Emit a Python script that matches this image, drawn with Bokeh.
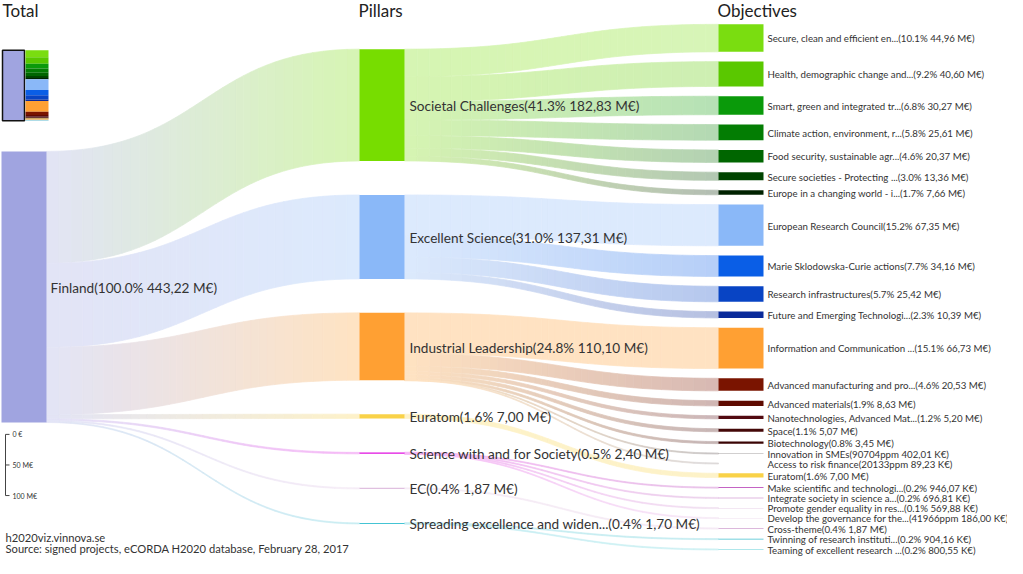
import numpy as np
from bokeh.plotting import figure
from bokeh.models import Range1d
from bokeh.embed import file_html
from bokeh.resources import INLINE
from bokeh.core.properties import value

# ---------------- data ----------------
total_name = "Finland"
total_value = 443.22
total_label = "Finland(100.0% 443,22 M€)"
total_color = "#a0a4e0"

pillar_names = ["Societal Challenges", "Excellent Science", "Industrial Leadership", "Euratom",
                "Science with and for Society", "EC", "Spreading excellence and widen..."]
pillar_values = [182.83, 137.31, 110.10, 7.00, 2.40, 1.87, 1.70]
pillar_labels = ["Societal Challenges(41.3% 182,83 M€)", "Excellent Science(31.0% 137,31 M€)",
                 "Industrial Leadership(24.8% 110,10 M€)", "Euratom(1.6% 7,00 M€)",
                 "Science with and for Society(0.5% 2,40 M€)", "EC(0.4% 1,87 M€)",
                 "Spreading excellence and widen...(0.4% 1,70 M€)"]
pillar_colors = ["#77dd00", "#8ab8f8", "#ffa033", "#f9d248", "#e010e0", "#e0c0e0", "#44c4d4"]

objective_pillar = [0, 0, 0, 0, 0, 0, 0, 1, 1, 1, 1, 2, 2, 2, 2, 2, 2, 2, 2, 3, 4, 4, 4, 4, 5, 6, 6]
objective_values = [44.96, 40.60, 30.27, 25.61, 20.37, 13.36, 7.66,
                    67.35, 34.16, 25.42, 10.39,
                    66.73, 20.53, 8.63, 5.20, 5.07, 3.45, 0.40201, 0.08923,
                    7.00,
                    0.94607, 0.69681, 0.56988, 0.18600,
                    1.87,
                    0.90416, 0.80055]
objective_labels = [
    "Secure, clean and efficient en...(10.1% 44,96 M€)",
    "Health, demographic change and...(9.2% 40,60 M€)",
    "Smart, green and integrated tr...(6.8% 30,27 M€)",
    "Climate action, environment, r...(5.8% 25,61 M€)",
    "Food security, sustainable agr...(4.6% 20,37 M€)",
    "Secure societies - Protecting ...(3.0% 13,36 M€)",
    "Europe in a changing world - i...(1.7% 7,66 M€)",
    "European Research Council(15.2% 67,35 M€)",
    "Marie Sklodowska-Curie actions(7.7% 34,16 M€)",
    "Research infrastructures(5.7% 25,42 M€)",
    "Future and Emerging Technologi...(2.3% 10,39 M€)",
    "Information and Communication ...(15.1% 66,73 M€)",
    "Advanced manufacturing and pro...(4.6% 20,53 M€)",
    "Advanced materials(1.9% 8,63 M€)",
    "Nanotechnologies, Advanced Mat...(1.2% 5,20 M€)",
    "Space(1.1% 5,07 M€)",
    "Biotechnology(0.8% 3,45 M€)",
    "Innovation in SMEs(90704ppm 402,01 K€)",
    "Access to risk finance(20133ppm 89,23 K€)",
    "Euratom(1.6% 7,00 M€)",
    "Make scientific and technologi...(0.2% 946,07 K€)",
    "Integrate society in science a...(0.2% 696,81 K€)",
    "Promote gender equality in res...(0.1% 569,88 K€)",
    "Develop the governance for the...(41966ppm 186,00 K€)",
    "Cross-theme(0.4% 1,87 M€)",
    "Twinning of research instituti...(0.2% 904,16 K€)",
    "Teaming of excellent research ...(0.2% 800,55 K€)",
]
objective_colors = ["#7add10", "#5ac800", "#0a9a0a", "#037d03", "#006600", "#004400", "#002200",
                    "#8ab8f8", "#0a5ee6", "#0844c4", "#0a2a9a",
                    "#ffa033", "#7a1400", "#5e0a00", "#520a10", "#440808", "#3a0404", "#4a4040", "#888080",
                    "#f9d248",
                    "#b030b0", "#c070c0", "#d0a0d0", "#e0c0e0",
                    "#dcb8dc",
                    "#40c0d0", "#60d0d8"]

scale_ticks = [0, 50, 100]
scale_tick_labels = ["0 €", "50 M€", "100 M€"]

# ---------------- layout parameters ----------------
K = 0.616            # px per M€
NODE_W = 45
COL_X = [1, 359, 718]
COL_TOP = [152, 49, 24]
GAP_P = 34.2
GAP_O = 9.85
ALPHA = 0.3
FONT = "Lato"
TXT = "#333333"


def hex2rgb(h):
    h = h.lstrip("#")
    return np.array([int(h[i:i + 2], 16) for i in (0, 2, 4)], dtype=float)


def rgb2hex(c):
    c = np.clip(np.round(c), 0, 255).astype(int)
    return "#%02x%02x%02x" % tuple(c)


def link_color(c0, c1, u):
    c = hex2rgb(c0) * (1 - u) + hex2rgb(c1) * u
    return rgb2hex(255 - ALPHA * (255 - c))


# node positions
fin_top = COL_TOP[0]
fin_bot = fin_top + total_value * K

p_top, p_bot = [], []
y = COL_TOP[1]
for v in pillar_values:
    p_top.append(y)
    p_bot.append(y + v * K)
    y += v * K + GAP_P

o_top, o_bot = [], []
y = COL_TOP[2]
for v in objective_values:
    o_top.append(y)
    o_bot.append(y + v * K)
    y += v * K + GAP_O

p = figure(width=1007, height=558, x_range=Range1d(0, 1007), y_range=Range1d(562, 0),
           output_backend="svg", toolbar_location=None, min_border=0)
p.axis.visible = False
p.grid.visible = False
p.outline_line_color = None
p.background_fill_color = "white"

# ---------------- links ----------------
px_l, py_l, pc_l = [], [], []
N = 36


def add_link(sx, tx, s0, s1, t0, t1, c0, c1):
    h = s1 - s0
    if h < 1.05:
        d = (1.05 - h) / 2
        s0, s1, t0, t1 = s0 - d, s1 + d, t0 - d, t1 + d
    ts = np.linspace(0, 1, N + 1)
    m = (sx + tx) / 2
    xs = sx * (1 - ts) ** 3 + 3 * m * (1 - ts) ** 2 * ts + 3 * m * (1 - ts) * ts ** 2 + tx * ts ** 3
    f = 3 * ts ** 2 - 2 * ts ** 3
    top = s0 + (t0 - s0) * f
    bot = s1 + (t1 - s1) * f
    for i in range(N):
        px_l.append([xs[i], xs[i + 1], xs[i + 1], xs[i]])
        py_l.append([top[i], top[i + 1], bot[i + 1], bot[i]])
        u = ((xs[i] + xs[i + 1]) / 2 - sx) / (tx - sx)
        pc_l.append(link_color(c0, c1, u))


# total -> pillars
y = fin_top
for i, v in enumerate(pillar_values):
    add_link(COL_X[0] + NODE_W, COL_X[1], y, y + v * K, p_top[i], p_bot[i], total_color, pillar_colors[i])
    y += v * K

# pillars -> objectives
offs = list(p_top)
for j, v in enumerate(objective_values):
    i = objective_pillar[j]
    s0 = offs[i]
    add_link(COL_X[1] + NODE_W, COL_X[2], s0, s0 + v * K, o_top[j], o_bot[j], pillar_colors[i], objective_colors[j])
    offs[i] += v * K

p.patches(xs=px_l, ys=py_l, fill_color=pc_l, line_color=pc_l, line_width=0.7)

# ---------------- nodes ----------------
p.quad(left=[COL_X[0]], right=[COL_X[0] + NODE_W], top=[fin_top], bottom=[fin_bot],
       fill_color=total_color, line_color=None)
p.quad(left=[COL_X[1]] * len(pillar_values), right=[COL_X[1] + NODE_W] * len(pillar_values),
       top=p_top, bottom=[max(b, t + 1.2) for t, b in zip(p_top, p_bot)],
       fill_color=pillar_colors, line_color=None)
p.quad(left=[COL_X[2]] * len(objective_values), right=[COL_X[2] + NODE_W] * len(objective_values),
       top=o_top, bottom=o_bot, fill_color=objective_colors, line_color=None)

# ---------------- labels ----------------
p.text(x=[COL_X[0] + NODE_W + 4], y=[(fin_top + fin_bot) / 2 + 1], text=[total_label],
       text_font=value(FONT), text_font_size="13.6px", text_color=TXT,
       text_align="left", text_baseline="middle")
p.text(x=[COL_X[1] + NODE_W + 5] * len(pillar_values), y=[(a + b) / 2 + 1 for a, b in zip(p_top, p_bot)],
       text=pillar_labels, text_font=value(FONT), text_font_size="13.6px", text_color=TXT,
       text_align="left", text_baseline="middle")
p.text(x=[COL_X[2] + NODE_W + 4] * len(objective_values), y=[(a + b) / 2 + 0.3 for a, b in zip(o_top, o_bot)],
       text=objective_labels, text_font=value(FONT), text_font_size="9.7px", text_color=TXT,
       text_align="left", text_baseline="middle")

# headings
p.text(x=[2, COL_X[1] - 1, COL_X[2] - 1], y=[10, 10, 10], text=["Total", "Pillars", "Objectives"],
       text_font=value(FONT), text_font_size="17px", text_color="#222222",
       text_align="left", text_baseline="middle")

# ---------------- mini overview ----------------
K2 = 71.0 / total_value
mini_top = 50
p.quad(left=[2], right=[24], top=[mini_top], bottom=[mini_top + total_value * K2],
       fill_color=total_color, line_color="#111111", line_width=1.5)
yy = mini_top
mt, mb = [], []
for v in objective_values:
    mt.append(yy)
    mb.append(yy + v * K2)
    yy += v * K2
p.quad(left=[25] * len(objective_values), right=[48] * len(objective_values), top=mt, bottom=mb,
       fill_color=objective_colors, line_color=None)

# ---------------- scale bar ----------------
sb_top = 437
sb_x = 5
p.segment(x0=[sb_x], y0=[sb_top + scale_ticks[0] * K], x1=[sb_x], y1=[sb_top + scale_ticks[-1] * K],
          line_color="#444444", line_width=1)
p.segment(x0=[sb_x] * len(scale_ticks), y0=[sb_top + t * K for t in scale_ticks],
          x1=[sb_x + 4] * len(scale_ticks), y1=[sb_top + t * K for t in scale_ticks],
          line_color="#444444", line_width=1)
p.text(x=[sb_x + 7] * len(scale_ticks), y=[sb_top + t * K for t in scale_ticks], text=scale_tick_labels,
       text_font=value(FONT), text_font_size="7px", text_color=TXT,
       text_align="left", text_baseline="middle")

# ---------------- footer ----------------
p.text(x=[5, 5], y=[541, 552], text=["h2020viz.vinnova.se",
                                     "Source: signed projects, eCORDA H2020 database, February 28, 2017"],
       text_font=value(FONT), text_font_size="11.2px", text_color=TXT,
       text_align="left", text_baseline="middle")

open("out.html", "w").write(file_html(p, INLINE))
